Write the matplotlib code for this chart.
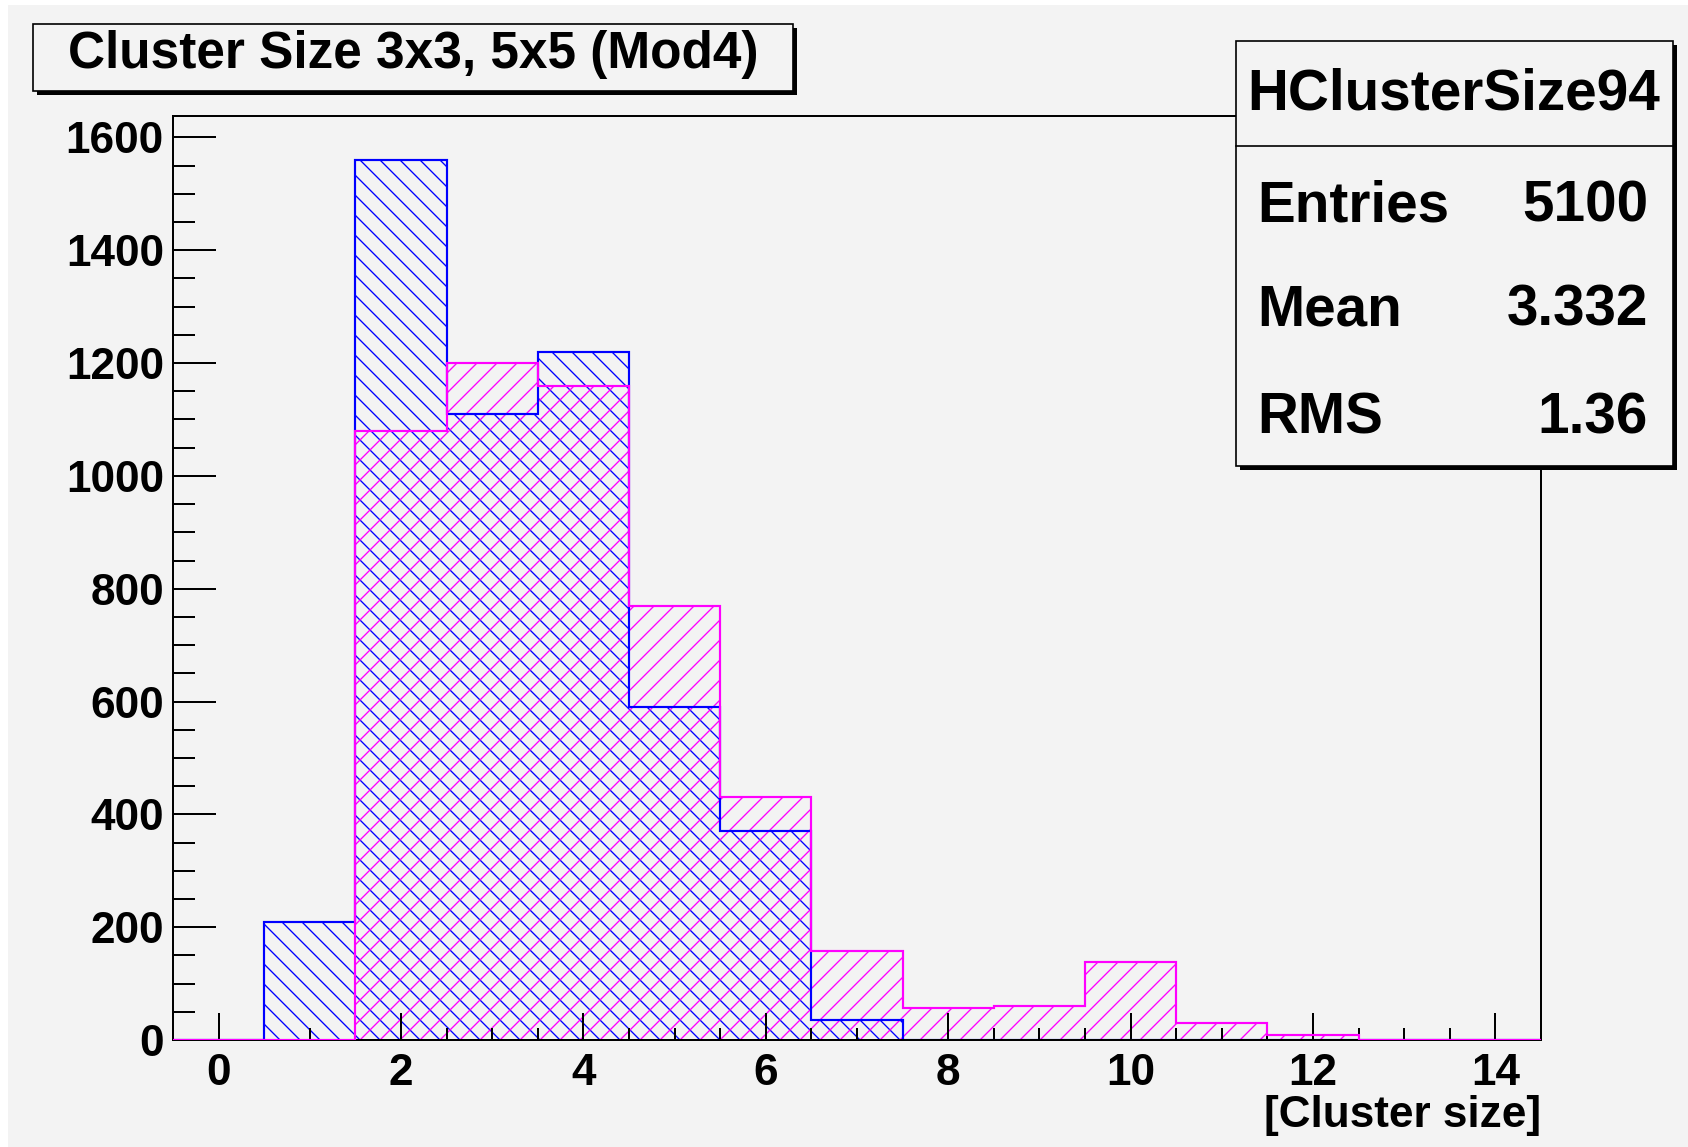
import numpy as np
import matplotlib
matplotlib.use("Agg")
import matplotlib.pyplot as plt
from matplotlib.patches import Rectangle
from matplotlib.ticker import MultipleLocator
from matplotlib.lines import Line2D

# Histogram bins: integer cluster sizes 0..14
bin_edges = np.arange(-0.5, 15.5, 1.0)
cluster_3x3 = [0, 210, 1560, 1110, 1220, 590, 370, 35, 0, 0, 0, 0, 0, 0, 0]
cluster_5x5 = [0, 0, 1080, 1200, 1160, 770, 430, 157, 56, 61, 139, 30, 9, 0, 0]

title = "Cluster Size 3x3, 5x5 (Mod4)"
x_label = "[Cluster size]"
stats_name = "HClusterSize94"
stats_rows = ["Entries", "Mean", "RMS"]
stats_vals = ["5100", "3.332", "1.36"]

W, H, DPI = 1688, 1147, 120
BG = "#f3f3f3"

plt.rcParams["font.family"] = ["Liberation Sans", "DejaVu Sans"]
plt.rcParams["font.weight"] = "bold"
plt.rcParams["hatch.linewidth"] = 0.8

fig = plt.figure(figsize=(W / DPI, H / DPI), dpi=DPI, facecolor="white")


def fx(px):
    return px / W


def fy(py):
    return 1 - py / H


# canvas background
fig.patches.append(Rectangle((fx(8), 0), 1 - fx(8), fy(5), transform=fig.transFigure,
                             facecolor=BG, edgecolor="none", zorder=-10))

ax = fig.add_axes([fx(173), fy(1040), fx(1541) - fx(173), fy(116) - fy(1040)])
ax.set_facecolor(BG)

# hatched fills
ax.stairs(cluster_3x3, bin_edges, baseline=0, fill=True, facecolor="none",
          edgecolor="blue", hatch="\\\\", linewidth=0)
ax.stairs(cluster_5x5, bin_edges, baseline=0, fill=True, facecolor="none",
          edgecolor="magenta", hatch="//", linewidth=0)
# outlines
ax.stairs(cluster_3x3, bin_edges, baseline=None, color="blue", linewidth=1.3, zorder=2)
ax.stairs(cluster_5x5, bin_edges, baseline=None, color="magenta", linewidth=1.3, zorder=3)

ax.set_xlim(-0.5, 14.5)
ax.set_ylim(0, 1.05 * max(cluster_3x3))

for side in ["top", "right", "bottom", "left"]:
    ax.spines[side].set_linewidth(1.2)

ax.set_xticks(np.arange(0, 15, 2))
ax.xaxis.set_minor_locator(MultipleLocator(0.5))
ax.set_yticks(np.arange(0, 1601, 200))
ax.yaxis.set_minor_locator(MultipleLocator(50))
ax.tick_params(axis="both", which="both", direction="in", width=1.2,
               top=False, right=False, labelsize=26.5)
ax.tick_params(axis="x", which="major", length=16, pad=8)
ax.tick_params(axis="x", which="minor", length=7.5)
ax.tick_params(axis="y", which="major", length=26, pad=5.5)
ax.tick_params(axis="y", which="minor", length=13)

fig.text(fx(1541), fy(1127), x_label, ha="right", va="baseline", fontsize=26.5,
         fontweight="bold")


def shadow_box(x0, y0, x1, y1, off=4):
    # ROOT-style box with a drop shadow
    fig.patches.append(Rectangle((fx(x0 + off), fy(y1 + off)), fx(x1) - fx(x0),
                                 fy(y0) - fy(y1), transform=fig.transFigure,
                                 facecolor="black", edgecolor="none", zorder=5))
    fig.patches.append(Rectangle((fx(x0), fy(y1)), fx(x1) - fx(x0), fy(y0) - fy(y1),
                                 transform=fig.transFigure, facecolor=BG,
                                 edgecolor="black", linewidth=1.0, zorder=6))


# title box
shadow_box(33, 24, 793, 91)
fig.text(fx(68), fy(68), title, ha="left", va="baseline", fontsize=30.8,
         fontweight="bold", zorder=7)

# statistics box
shadow_box(1236, 41, 1673, 466)
fig.lines.append(Line2D([fx(1236), fx(1673)], [fy(146), fy(146)],
                        transform=fig.transFigure, color="black", linewidth=1.0, zorder=7))
fig.text(fx(1454), fy(95), stats_name, ha="center", va="center", fontsize=34,
         fontweight="bold", zorder=7)
for row, (name, val) in enumerate(zip(stats_rows, stats_vals)):
    yc = [206, 311, 418][row]
    fig.text(fx(1257), fy(yc), name, ha="left", va="center", fontsize=34,
             fontweight="bold", zorder=7)
    fig.text(fx(1648), fy(yc), val, ha="right", va="center", fontsize=34,
             fontweight="bold", zorder=7)

fig.savefig("out.png", dpi=DPI, facecolor=fig.get_facecolor())
